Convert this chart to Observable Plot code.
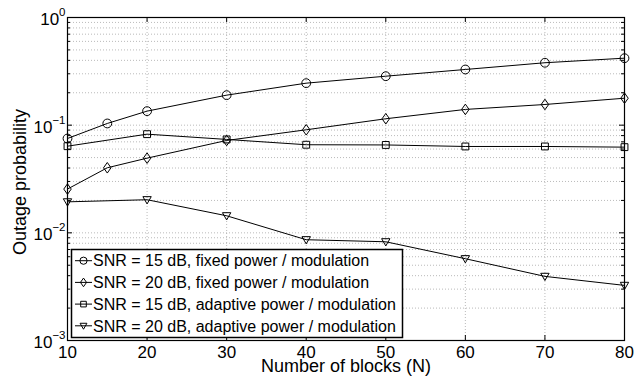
<!DOCTYPE html>
<html><head><meta charset="utf-8">
<script src="https://cdn.jsdelivr.net/npm/d3@7"></script>
<script src="https://cdn.jsdelivr.net/npm/@observablehq/plot@0.6"></script>
<style>body{margin:0;background:#fff}</style>
</head><body><div id="chart"></div>
<script>
// ---- data ----
const blocksDense = [10, 15, 20, 30, 40, 50, 60, 70, 80];
const blocksSparse = [10, 20, 30, 40, 50, 60, 70, 80];
const fixed15 = [0.0752, 0.1037, 0.135, 0.190, 0.2455, 0.285, 0.329, 0.380, 0.419];
const fixed20 = [0.0255, 0.0402, 0.0494, 0.0721, 0.0906, 0.1147, 0.140, 0.1556, 0.178];
const adaptive15 = [0.0638, 0.0825, 0.0737, 0.0658, 0.0655, 0.0634, 0.0634, 0.0625];
const adaptive20 = [0.0194, 0.0203, 0.0144, 0.00863, 0.00826, 0.00575, 0.00394, 0.00325];
const seriesLabels = [
  "SNR = 15 dB, fixed power / modulation",
  "SNR = 20 dB, fixed power / modulation",
  "SNR = 15 dB, adaptive power / modulation",
  "SNR = 20 dB, adaptive power / modulation"
];
const xTicks = [10, 20, 30, 40, 50, 60, 70, 80];
const yTicks = [1e-3, 1e-2, 1e-1, 1];
const xLabel = "Number of blocks (N)";
const yLabel = "Outage probability";

// ---- layout ----
const W = 642, H = 381, mL = 67, mR = 18, mT = 17, mB = 41;
const pw = W - mL - mR, ph = H - mT - mB;
const FONT = "'Liberation Sans', Arial, Helvetica, sans-serif";

// minor log ticks
const yMinor = [];
yTicks.slice(0, -1).forEach(d => { for (let k = 2; k <= 9; k++) yMinor.push(d * k); });

// ---- symbols ----
const symCircle = {draw(c, size) { const r = Math.sqrt(size / Math.PI); c.moveTo(r, 0); c.arc(0, 0, r, 0, 2 * Math.PI); }};
const symDiamond = {draw(c, size) { const r = Math.sqrt(size / Math.PI); const h = r * 1.2, w = r * 0.85;
  c.moveTo(0, -h); c.lineTo(w, 0); c.lineTo(0, h); c.lineTo(-w, 0); c.closePath(); }};
const symSquare = {draw(c, size) { const r = Math.sqrt(size / Math.PI); const s = r * 0.78; c.rect(-s, -s, 2 * s, 2 * s); }};
const symTriDown = {draw(c, size) { const r = Math.sqrt(size / Math.PI);
  c.moveTo(-r * 0.95, -r * 0.7); c.lineTo(r * 0.95, -r * 0.7); c.lineTo(0, r * 0.95); c.closePath(); }};
const symbols = [symCircle, symDiamond, symSquare, symTriDown];

const rows = (xs, ys) => xs.map((x, i) => ({x, y: ys[i]}));
const series = [rows(blocksDense, fixed15), rows(blocksDense, fixed20), rows(blocksSparse, adaptive15), rows(blocksSparse, adaptive20)];

const gridStyle = {stroke: "#a8a8a8", strokeDasharray: "1,2", strokeWidth: 0.8};

const marks = [
  Plot.ruleX(xTicks, {x: d => d, ...gridStyle}),
  Plot.ruleY(yMinor.concat(yTicks), {y: d => d, ...gridStyle}),
  // inner tick marks
  Plot.tickX(xTicks, {x: d => d, insetTop: ph - 5, stroke: "black"}),
  Plot.tickX(xTicks, {x: d => d, insetBottom: ph - 5, stroke: "black"}),
  Plot.tickY(yTicks, {y: d => d, insetRight: pw - 5, stroke: "black"}),
  Plot.tickY(yTicks, {y: d => d, insetLeft: pw - 5, stroke: "black"}),
  Plot.tickY(yMinor, {y: d => d, insetRight: pw - 3, stroke: "black"}),
  Plot.tickY(yMinor, {y: d => d, insetLeft: pw - 3, stroke: "black"}),
  Plot.axisX({ticks: xTicks, tickSize: 0, tickPadding: 5, label: null, fontSize: 17}),
  Plot.axisY({ticks: yTicks, tickSize: 0, tickPadding: 2, label: null, fontSize: 17, dy: 2,
    tickFormat: d => "10|" + (Math.round(Math.log10(d)) < 0 ? "\u2212" + Math.abs(Math.round(Math.log10(d))) : "0")}),
  Plot.text([xLabel], {frameAnchor: "bottom", dy: 31.5, fontSize: 18}),
  Plot.text([yLabel], {frameAnchor: "left", textAnchor: "middle", rotate: -90, dx: -47, dy: 3, fontSize: 18})
];
series.forEach((s, i) => {
  marks.push(Plot.line(s, {x: "x", y: "y", stroke: "black", strokeWidth: 1}));
});
series.forEach((s, i) => {
  marks.push(Plot.dot(s, {x: "x", y: "y", symbol: symbols[i], r: 4.4, stroke: "black", strokeWidth: 1, fill: "none"}));
});
marks.push(Plot.frame({stroke: "black", strokeWidth: 1.2}));

const plot = Plot.plot({
  width: W, height: H,
  marginLeft: mL, marginRight: mR, marginTop: mT, marginBottom: mB,
  style: {fontFamily: FONT, fontSize: "16px", background: "white", color: "black"},
  x: {domain: [10, 80]},
  y: {type: "log", domain: [1e-3, 1]},
  marks
});
document.getElementById("chart").appendChild(plot);

const svg = d3.select(plot);
// superscripts on y tick labels
svg.selectAll('g[aria-label="y-axis tick label"] text').each(function() {
  const t = d3.select(this);
  const [b, e] = t.text().split("|");
  t.text(null);
  t.append("tspan").text(b);
  t.append("tspan").attr("dy", -9).attr("font-size", 11.5).text(e);
});

// legend (inside plot, lower-left)
const lg = svg.append("g").attr("font-family", FONT).attr("font-size", 16).attr("text-anchor", "start");
lg.append("rect").attr("x", 71.5).attr("y", 249.5).attr("width", 331).attr("height", 88)
  .attr("fill", "white").attr("stroke", "black").attr("stroke-width", 1.5);
seriesLabels.forEach((lab, i) => {
  const cy = 260.7 + i * 21.7;
  lg.append("line").attr("x1", 75).attr("x2", 92).attr("y1", cy).attr("y2", cy).attr("stroke", "black");
  const p = d3.path(); symbols[i].draw(p, Math.PI * 3.6 * 3.6);
  lg.append("path").attr("d", p.toString()).attr("transform", `translate(83.5,${cy})`)
    .attr("fill", "none").attr("stroke", "black");
  lg.append("text").attr("x", 93).attr("y", cy).attr("dy", "0.36em").attr("text-anchor", "start").text(lab);
});
</script>
</body></html>
